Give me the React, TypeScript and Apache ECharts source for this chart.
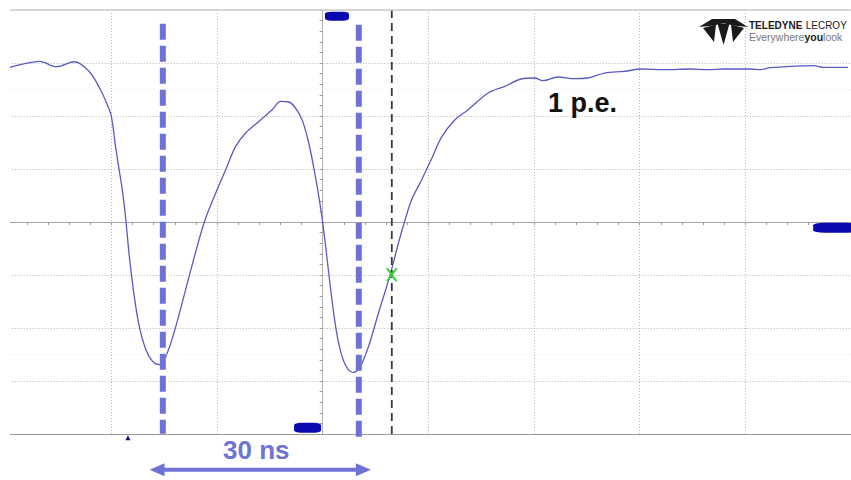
import React, { useEffect, useRef } from "react";
import * as echarts from "echarts";

// Waveform (x in divisions relative to centre, y in divisions)
const traceX = [
  -2.962, -2.821, -2.679, -2.519, -2.349, -2.208, -2.113, -2.038, -2.0, -1.956,
  -1.893, -1.861, -1.83, -1.783, -1.736, -1.673, -1.61, -1.547, -1.484, -1.39,
  -1.264, -1.123, -1.012, -0.918, -0.824, -0.729, -0.604, -0.478, -0.399, -0.321,
  -0.258, -0.195, -0.132, -0.069, -0.022, 0.009, 0.057, 0.104, 0.151, 0.214,
  0.292, 0.356, 0.434, 0.528, 0.639, 0.717, 0.78, 0.842, 0.937, 1.031,
  1.125, 1.252, 1.377, 1.566, 1.723, 1.88, 2.006, 2.085, 2.226, 2.384,
  2.509, 2.667, 2.856, 3.013, 3.233, 3.484, 3.642, 3.799, 4.05, 4.144,
  4.239, 4.647, 4.742, 4.971,
];
const traceY = [
  2.917, 2.987, 3.03, 2.93, 3.024, 2.836, 2.534, 2.213, 1.992, 1.364,
  0.553, 0.0, -0.649, -1.404, -1.97, -2.409, -2.63, -2.692, -2.536, -1.97,
  -1.026, -0.019, 0.547, 0.987, 1.426, 1.679, 1.898, 2.119, 2.275, 2.264,
  2.151, 1.93, 1.491, 0.86, 0.294, -0.145, -0.962, -1.717, -2.283, -2.692,
  -2.838, -2.725, -2.347, -1.717, -0.994, -0.396, 0.043, 0.421, 0.798, 1.194,
  1.6, 1.93, 2.119, 2.434, 2.558, 2.698, 2.717, 2.666, 2.736, 2.704,
  2.717, 2.811, 2.842, 2.887, 2.874, 2.887, 2.874, 2.887, 2.887, 2.874,
  2.911, 2.949, 2.917, 2.917,
];

// Annotation positions (divisions)
const peakCursorsX = [-1.513, 0.342];
const peakCursorTop = [3.742, 3.723];
const peakCursorBottom = [-3.994, -4.145];
const triggerCursorX = 0.654;
const crossPoint = [0.654, -0.994];
const arrowY = -4.674;
const arrowShaft = [-1.582, 0.399];
const arrowHeads = [-1.568, 0.385];
const markerTop = [0.135, 3.883];
const markerBottom = [-0.143, -3.881];
const markerRight = [4.85, -0.108];
const smallTriangle = [-1.843, -4.07];
const spanLabel = "30 ns";
const peLabel = "1 p.e.";

const X_MIN = -3;
const X_MAX = 5;
const Y_MIN = -4;
const Y_MAX = 4;

export default function App() {
  const ref = useRef<HTMLDivElement>(null);

  useEffect(() => {
    if (!ref.current) return;
    const chart = echarts.init(ref.current, undefined, { renderer: "svg" });
    const blue = "#6e72d6";
    const dotted = { color: "#b4b4b4", width: 1, type: [1, 2] as any };
    const markerColor = "#0a0ab0";

    const option: any = {
      animation: false,
      backgroundColor: "#ffffff",
      grid: { left: 5.7, top: 10, width: 848, height: 424, containLabel: false },
      xAxis: {
        type: "value",
        min: X_MIN,
        max: X_MAX,
        interval: 1,
        axisLine: { show: true, onZero: true, lineStyle: { color: "#a6a6a6", width: 1 } },
        axisTick: { show: true, length: 3, lineStyle: { color: "#999" } },
        minorTick: { show: true, splitNumber: 5, length: 3, lineStyle: { color: "#999" } },
        axisLabel: { show: false },
        splitLine: { show: true, lineStyle: dotted },
      },
      yAxis: {
        type: "value",
        min: Y_MIN,
        max: Y_MAX,
        interval: 1,
        axisLine: { show: true, onZero: true, lineStyle: { color: "#b4b4b4", width: 1 } },
        axisTick: { show: true, length: 3, lineStyle: { color: "#999" } },
        minorTick: { show: true, splitNumber: 5, length: 3, lineStyle: { color: "#999" } },
        axisLabel: { show: false },
        splitLine: { show: true, lineStyle: dotted },
      },
      graphic: [
        { type: "rect", z: 100, shape: { x: 0, y: 0, width: 10, height: 480 }, style: { fill: "#ffffff" } },
        {
          type: "text",
          z: 110,
          style: {
            x: 548,
            y: 103,
            text: peLabel,
            fill: "#111111",
            font: "bold 27px 'Liberation Sans', Arial, sans-serif",
            verticalAlign: "middle",
          },
        },
        {
          type: "text",
          z: 110,
          style: {
            x: 223,
            y: 450,
            text: spanLabel,
            fill: "#6f73d4",
            font: "bold 26px 'Liberation Sans', Arial, sans-serif",
            verticalAlign: "middle",
          },
        },
        // logo icon
        {
          type: "group",
          z: 110,
          children: [
            { type: "polygon", shape: { points: [[699, 27], [712, 19], [735, 19], [748, 27], [733, 25.5], [723.5, 23], [714, 25.5]] }, style: { fill: "#1a1a1a" } },
            { type: "polygon", shape: { points: [[703, 28], [716, 24.5], [714, 42]] }, style: { fill: "#1a1a1a" } },
            { type: "polygon", shape: { points: [[717.5, 23.5], [729.5, 23.5], [723.5, 45]] }, style: { fill: "#1a1a1a" } },
            { type: "polygon", shape: { points: [[731, 24.5], [744, 28], [733, 42]] }, style: { fill: "#1a1a1a" } },
          ],
        },
        {
          type: "text",
          z: 110,
          style: {
            x: 749,
            y: 25,
            text: "{t|TELEDYNE} {l|LECROY}",
            verticalAlign: "middle",
            rich: {
              t: { fill: "#1a1a1a", font: "bold 10px 'Liberation Sans', Arial, sans-serif" },
              l: { fill: "#1a1a1a", font: "10px 'Liberation Sans', Arial, sans-serif" },
            },
          },
        },
        {
          type: "text",
          z: 110,
          style: {
            x: 749,
            y: 37,
            text: "{a|Everywhere}{b|you}{a|look}",
            verticalAlign: "middle",
            rich: {
              a: { fill: "#777777", font: "10.5px 'Liberation Sans', Arial, sans-serif" },
              b: { fill: "#1a1a1a", font: "bold 10.5px 'Liberation Sans', Arial, sans-serif" },
            },
          },
        },
      ],
      series: [
        {
          type: "line",
          name: "trace",
          z: 3,
          data: traceX.map((x, i) => [x, traceY[i]]),
          showSymbol: false,
          symbol: "none",
          smooth: 0.35,
          lineStyle: { color: "#5a5ac4", width: 1.3 },
          markLine: {
            silent: true,
            symbol: ["none", "none"],
            label: { show: false },
            data: [
              { yAxis: Y_MAX, lineStyle: { color: "#cccccc", width: 1.6, type: "solid" } },
              { yAxis: Y_MIN, lineStyle: { color: "#9a9a9a", width: 1, type: "solid" } },
              { yAxis: 2.5, lineStyle: { color: "#e6e6e6", width: 1, type: [1, 3] } },
              { yAxis: -2.5, lineStyle: { color: "#e6e6e6", width: 1, type: [1, 3] } },
            ],
          },
        },
        {
          type: "line",
          z: 4,
          clip: false,
          showSymbol: false,
          symbol: "none",
          data: [[triggerCursorX, Y_MAX], [triggerCursorX, Y_MIN]],
          lineStyle: { color: "#3a3a3a", width: 1.8, type: [8, 5] },
        },
        ...peakCursorsX.map((x, i) => ({
          type: "line",
          z: 6,
          clip: false,
          showSymbol: false,
          symbol: "none",
          data: [[x, peakCursorTop[i]], [x, peakCursorBottom[i]]],
          lineStyle: { color: blue, width: 6, type: [16, 6] },
        })),
        {
          type: "line",
          z: 6,
          clip: false,
          showSymbol: false,
          symbol: "none",
          data: [[arrowShaft[0], arrowY], [arrowShaft[1], arrowY]],
          lineStyle: { color: blue, width: 4 },
        },
        {
          type: "scatter",
          z: 7,
          clip: false,
          symbol: "triangle",
          symbolSize: [13, 15],
          data: [
            { value: [arrowHeads[0], arrowY], symbolRotate: 90 },
            { value: [arrowHeads[1], arrowY], symbolRotate: -90 },
          ],
          itemStyle: { color: blue, opacity: 1 },
        },
        {
          type: "scatter",
          z: 8,
          clip: false,
          symbol: "roundRect",
          data: [
            { value: markerTop, symbolSize: [24, 9] },
            { value: markerBottom, symbolSize: [27, 10] },
            { value: markerRight, symbolSize: [44, 10] },
          ],
          itemStyle: { color: markerColor, opacity: 1 },
        },
        {
          type: "scatter",
          z: 8,
          clip: false,
          symbol: "triangle",
          symbolSize: [5, 5],
          data: [smallTriangle],
          itemStyle: { color: "#101080", opacity: 1 },
        },
        {
          type: "scatter",
          z: 9,
          clip: false,
          symbol: "path://M0,0L4,5L0,10L2,10L5,6.5L8,10L10,10L6,5L10,0L8,0L5,3.5L2,0Z",
          symbolSize: [12, 13],
          data: [crossPoint],
          itemStyle: { color: "#3ccc3c", opacity: 1 },
        },
      ],
    };

    chart.setOption(option);
    return () => chart.dispose();
  }, []);

  return (
    <div
      ref={ref}
      style={{ position: "fixed", left: 0, top: 0, width: 851, height: 480, background: "#ffffff" }}
    />
  );
}
